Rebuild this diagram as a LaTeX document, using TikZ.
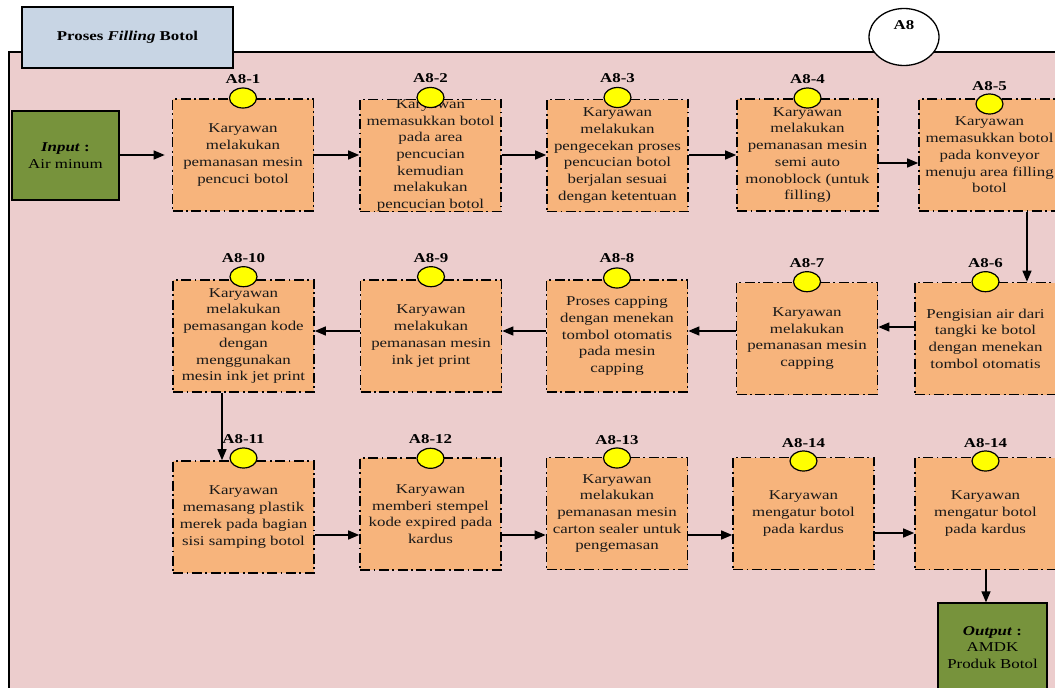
\documentclass[tikz,border=0pt]{standalone}
\usepackage{fontspec}
\setmainfont{Liberation Serif}[FakeStretch=1.25]
\usetikzlibrary{arrows.meta,shapes.geometric}

\definecolor{framepink}{RGB}{236,205,205}
\definecolor{procorange}{RGB}{247,180,124}
\definecolor{iogreen}{RGB}{119,147,60}
\definecolor{titleblue}{RGB}{200,213,228}
\definecolor{marker}{RGB}{255,255,0}

\tikzset{
  pbox/.style={draw=black, fill=procorange, line width=1.6pt,
    dash pattern=on 10pt off 3.5pt on 1.8pt off 3.5pt,
    minimum width=141pt, minimum height=112pt, inner sep=0pt},
  ptext/.style={align=center, inner sep=0pt, text=black!90,
    font=\fontsize{13.5}{16.7}\selectfont},
  pmark/.style={ellipse, draw=black, line width=1.2pt, fill=marker,
    minimum width=27pt, minimum height=20pt, inner sep=0pt},
  plabel/.style={font=\fontsize{13.5}{16}\selectfont\bfseries, inner sep=0pt},
  iobox/.style={draw=black, fill=iogreen, line width=1.3pt, inner sep=0pt,
    align=center, font=\fontsize{13.5}{16.7}\selectfont},
  flow/.style={draw=black, line width=1.3pt, -{Triangle[length=11pt,width=9pt]}},
}

% process step: name, x, y, tag, marker y, tag y, description
\newcommand\procnode[7]{%
  \node[pbox] (#1) at (#2,#3) {};
  \node[ptext] (#1t) at (#1) {#7};
  \node[pmark] (#1m) at (#2,#5) {};
  \node[plabel] (#1l) at (#2,#6) {#4};
}

\begin{document}
\begin{tikzpicture}[x=1pt,y=-1pt]
\useasboundingbox (0,0) rectangle (1055,688);
\clip (0,0) rectangle (1055,688);

% frame of the process
\draw[fill=framepink, line width=1.3pt] (9,52) rectangle (1075,710);

% title tab and process id
\node[draw=black, fill=titleblue, line width=1.5pt, minimum width=211pt,
  minimum height=61pt, inner sep=0pt, font=\fontsize{13.5}{16}\selectfont]
  (title) at (127.5,37.5) {\bfseries Proses \textit{Filling} Botol};
\node[ellipse, draw=black, fill=white, line width=1.3pt, minimum width=70pt,
  minimum height=57pt, inner sep=0pt] (pid) at (904,37) {};
\node[plabel] (pidl) at (904,25) {A8};

% input and output
\node[iobox, minimum width=107pt, minimum height=89pt] (in) at (65.5,155.5)
  {\textbf{\textit{Input}} \textbf{:}\\Air minum};
\node[iobox, minimum width=109pt, minimum height=89pt] (out) at (992.5,647.5)
  {\textbf{\textit{Output}} \textbf{:}\\AMDK\\Produk Botol};

% first row
\procnode{a1}{243}{155}{A8-1}{98}{79}{Karyawan\\melakukan\\pemanasan mesin\\pencuci botol}
\procnode{a2}{430.5}{155.5}{A8-2}{97.5}{78}{Karyawan\\memasukkan botol\\pada area\\pencucian\\kemudian\\melakukan\\pencucian botol}
\procnode{a3}{617.5}{155.5}{A8-3}{97.5}{78}{Karyawan\\melakukan\\pengecekan proses\\pencucian botol\\berjalan sesuai\\dengan ketentuan}
\procnode{a4}{807.5}{155}{A8-4}{98}{79}{Karyawan\\melakukan\\pemanasan mesin\\semi auto\\monoblock (untuk\\filling)}
\procnode{a5}{989.5}{155}{A8-5}{104}{86}{Karyawan\\memasukkan botol\\pada konveyor\\menuju area filling\\botol}

% second row
\procnode{a6}{985.5}{338.5}{A8-6}{281.7}{263}{Pengisian air dari\\tangki ke botol\\dengan menekan\\tombol otomatis}
\procnode{a7}{807}{338.5}{A8-7}{281.7}{263}{Karyawan\\melakukan\\pemanasan mesin\\capping}
\procnode{a8}{617}{336}{A8-8}{278}{258}{Proses capping\\dengan menekan\\tombol otomatis\\pada mesin\\capping}
\procnode{a9}{431}{336}{A8-9}{276.7}{258}{Karyawan\\melakukan\\pemanasan mesin\\ink jet print}
\procnode{a10}{243.5}{336}{A8-10}{276.7}{258}{Karyawan\\melakukan\\pemasangan kode\\dengan\\menggunakan\\mesin ink jet print}

% third row
\procnode{a11}{243.5}{517}{A8-11}{458}{439}{Karyawan\\memasang plastik\\merek pada bagian\\sisi samping botol}
\procnode{a12}{430.5}{514}{A8-12}{458.3}{439}{Karyawan\\memberi stempel\\kode expired pada\\kardus}
\procnode{a13}{617}{513.5}{A8-13}{458}{440}{Karyawan\\melakukan\\pemanasan mesin\\carton sealer untuk\\pengemasan}
\procnode{a14}{803.5}{513.5}{A8-14}{461}{443}{Karyawan\\mengatur botol\\pada kardus}
\procnode{a15}{985.5}{513.5}{A8-14}{461}{443}{Karyawan\\mengatur botol\\pada kardus}

% flow
\draw[flow, shorten >=7pt] (in.east |- 0,155) -- (a1.west |- 0,155);
\draw[flow] (a1.east |- 0,155) -- (a2.west |- 0,155);
\draw[flow] (a2.east |- 0,155) -- (a3.west |- 0,155);
\draw[flow] (a3.east |- 0,155) -- (a4.west |- 0,155);
\draw[flow] (a4.east |- 0,163) -- (a5.west |- 0,163);
\draw[flow] (a5.south -| 1027,0) -- (a6.north -| 1027,0);
\draw[flow] (a6.west |- 0,327) -- (a7.east |- 0,327);
\draw[flow] (a7.west |- 0,331) -- (a8.east |- 0,331);
\draw[flow] (a8.west |- 0,331) -- (a9.east |- 0,331);
\draw[flow] (a9.west |- 0,331) -- (a10.east |- 0,331);
\draw[flow] (a10.south -| 222,0) -- (a11.north -| 222,0);
\draw[flow] (a11.east |- 0,535) -- (a12.west |- 0,535);
\draw[flow] (a12.east |- 0,535) -- (a13.west |- 0,535);
\draw[flow] (a13.east |- 0,535) -- (a14.west |- 0,535);
\draw[flow] (a14.east |- 0,533) -- (a15.west |- 0,533);
\draw[flow] (a15.south -| 986,0) -- (out.north -| 986,0);
\end{tikzpicture}
\end{document}
